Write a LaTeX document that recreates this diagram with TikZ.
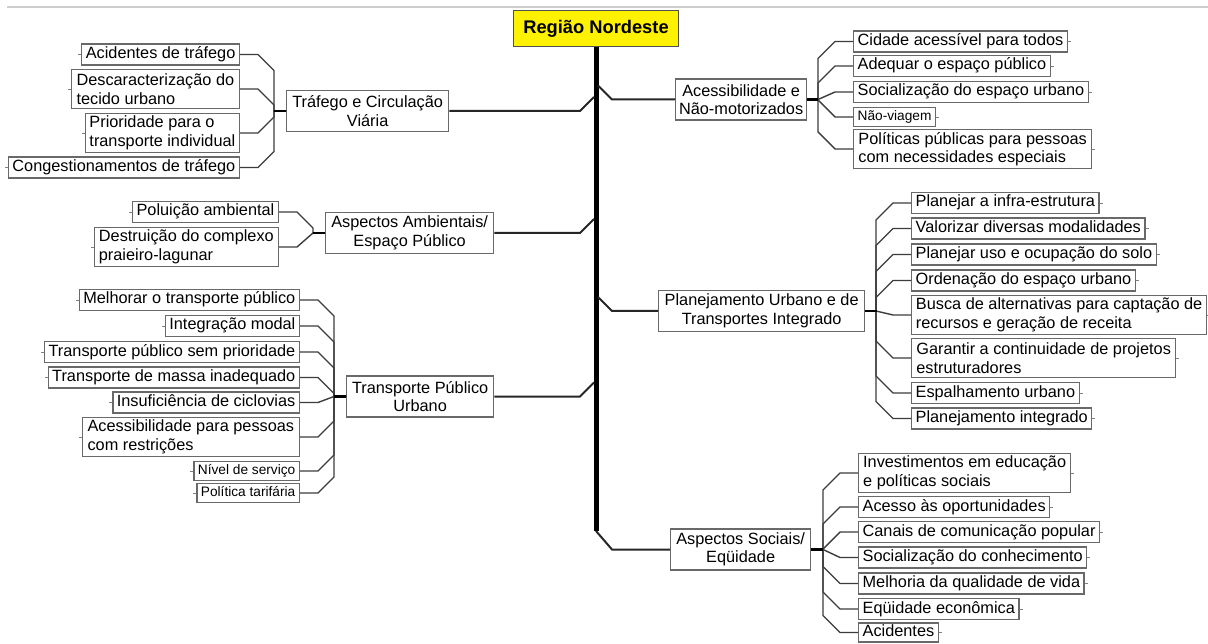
\documentclass[tikz,border=0pt]{standalone}
\usepackage{fontspec}
\setmainfont{Liberation Sans}
\usetikzlibrary{calc}
\definecolor{boxgray}{RGB}{105,105,105}
\definecolor{conngray}{RGB}{60,60,60}
\definecolor{topgray}{RGB}{205,205,205}
\definecolor{rootborder}{RGB}{80,80,80}
\newcommand\fsA{\fontsize{16.3}{18.5}\selectfont}
\newcommand\fsB{\fontsize{13.7}{16}\selectfont}
\newcommand\fsR{\fontsize{18.3}{21}\selectfont\bfseries}
\newcommand\conL[2]{\draw[conn] let \p1=(#1.east), \p2=(#2.west), \n1={max(-16pt,min(16pt,\y2-\y1))} in (#1.east) -- ++(18pt,0pt) -- ++(16pt,\n1) |- (#2.west);}
\newcommand\conR[2]{\draw[conn] let \p1=(#1.west), \p2=(#2.east), \n1={max(-17pt,min(17pt,\y2-\y1))} in (#1.west) -- ++(-18pt,0pt) -- ++(-17pt,\n1) |- (#2.east);}
\newcommand\tkL[1]{\draw[tick] (#1.west) -- ++(-3,0);}
\newcommand\tkR[1]{\draw[tick] (#1.east) -- ++(3,0);}
\begin{document}
\begin{tikzpicture}[x=1pt,y=-1pt,
  kid/.style={draw=boxgray, line width=1.3pt, fill=white, font=\fsA, inner xsep=4pt, inner ysep=2.5pt, text height=12pt, text depth=4pt},
  kids/.style={kid, font=\fsB, text height=10pt, text depth=3.5pt},
  kidtwo/.style={draw=boxgray, line width=1.3pt, fill=white, font=\fsA, inner xsep=4pt, inner ysep=0pt, minimum height=39pt, align=left},
  cat/.style={draw=boxgray, line width=1.3pt, fill=white, font=\fsA, inner sep=2pt, minimum height=41pt, align=center},
  rootbox/.style={draw=rootborder, line width=1.5pt, fill=yellow, font=\fsR, minimum width=165pt, minimum height=36pt, inner sep=2pt},
  conn/.style={draw=conngray, line width=1.4pt},
  branch/.style={draw=black!85, line width=2pt},
  stub/.style={draw=black, line width=2.8pt},
  trunkline/.style={draw=black, line width=5pt},
  tick/.style={draw=gray, line width=0.8pt},
  topline/.style={draw=topgray, line width=1.2pt}]
\useasboundingbox (0,0) rectangle (1208,644);
\fill[white] (0,0) rectangle (1208,644);
\draw[topline] (7,7) -- (1208,7);

% root
\node[rootbox] (root) at (596,28.5) {Região Nordeste};
\coordinate (tk) at (596,0);
\coordinate (tb) at (596,531);

% ---- left: Trafego
\node[cat, minimum width=162pt, anchor=west] (traf) at (286,111) {Tráfego e Circulação\\Viária};
\node[kid, anchor=east] (t1) at (240,54.5) {Acidentes de tráfego};
\node[kidtwo, minimum width=168pt, anchor=east] (t2) at (240,89) {Descaracterização do\\tecido urbano};
\node[kidtwo, minimum width=151pt, anchor=east] (t3) at (240,133) {Prioridade para o\\transporte individual};
\node[kid, anchor=east] (t4) at (240,167.5) {Congestionamentos de tráfego};

% ---- left: Ambientais
\node[cat, minimum width=168pt, anchor=west] (amb) at (325,233) {Aspectos Ambientais/\\Espaço Público};
\node[kid, anchor=east] (a1) at (279,212) {Poluição ambiental};
\node[kidtwo, minimum width=184pt, anchor=east] (a2) at (279,247) {Destruição do complexo\\praieiro-lagunar};

% ---- left: Transporte Publico
\node[cat, minimum width=147pt, anchor=west] (tp) at (346,396.5) {Transporte Público\\Urbano};
\node[kid, anchor=east] (p1) at (300,300) {Melhorar o transporte público};
\node[kid, anchor=east] (p2) at (300,326) {Integração modal};
\node[kid, anchor=east] (p3) at (300,352) {Transporte público sem prioridade};
\node[kid, anchor=east] (p4) at (300,377.5) {Transporte de massa inadequado};
\node[kid, anchor=east] (p5) at (300,402.5) {Insuficiência de ciclovias};
\node[kidtwo, minimum width=217pt, anchor=east] (p6) at (300,437) {Acessibilidade para pessoas\\com restrições};
\node[kids, anchor=east] (p7) at (300,471) {Nível de serviço};
\node[kids, anchor=east] (p8) at (300,493) {Política tarifária};

% ---- right: Acessibilidade
\node[cat, minimum width=131pt, anchor=west] (acc) at (675,99.5) {Acessibilidade e\\Não-motorizados};
\node[kid, anchor=west] (r1) at (853,41.5) {Cidade acessível para todos};
\node[kid, anchor=west] (r2) at (853,66) {Adequar o espaço público};
\node[kid, anchor=west] (r3) at (853,92) {Socialização do espaço urbano};
\node[kids, anchor=west] (r4) at (853,117) {Não-viagem};
\node[kidtwo, minimum width=238pt, anchor=west] (r5) at (853,149) {Políticas públicas para pessoas\\com necessidades especiais};

% ---- right: Planejamento
\node[cat, minimum width=206pt, anchor=west] (pl) at (658,311) {Planejamento Urbano e de\\Transportes Integrado};
\node[kid, anchor=west] (q1) at (911,203) {Planejar a infra-estrutura};
\node[kid, anchor=west] (q2) at (911,228.5) {Valorizar diversas modalidades};
\node[kid, anchor=west] (q3) at (911,254.5) {Planejar uso e ocupação do solo};
\node[kid, anchor=west] (q4) at (911,280.5) {Ordenação do espaço urbano};
\node[kidtwo, minimum width=295pt, anchor=west] (q5) at (911,315) {Busca de alternativas para captação de\\recursos e geração de receita};
\node[kidtwo, minimum width=264pt, anchor=west] (q6) at (911,358) {Garantir a continuidade de projetos\\estruturadores};
\node[kid, anchor=west] (q7) at (911,393) {Espalhamento urbano};
\node[kid, anchor=west] (q8) at (911,418.5) {Planejamento integrado};

% ---- right: Sociais
\node[cat, minimum width=140pt, anchor=west] (soc) at (670,549.5) {Aspectos Sociais/\\Eqüidade};
\node[kidtwo, minimum width=212pt, anchor=west] (s1) at (858,473) {Investimentos em educação\\e políticas sociais};
\node[kid, anchor=west] (s2) at (858,507) {Acesso às oportunidades};
\node[kid, anchor=west] (s3) at (858,532) {Canais de comunicação popular};
\node[kid, anchor=west] (s4) at (858,557.5) {Socialização do conhecimento};
\node[kid, anchor=west] (s5) at (858,583.5) {Melhoria da qualidade de vida};
\node[kid, anchor=west] (s6) at (858,609) {Eqüidade econômica};
\node[kid, anchor=west, text height=11.5pt, text depth=3.5pt, inner ysep=2pt] (s7) at (858,632.5) {Acidentes};

% ---- trunk and main branches
\draw[trunkline] (root.south) -- (tb);
\draw[branch] (traf.east) -- ($(traf.east -| tk)+(-16,0)$) -- ($(traf.east -| tk)+(-2,-14)$);
\draw[branch] (amb.east) -- ($(amb.east -| tk)+(-16,0)$) -- ($(amb.east -| tk)+(-2,-14)$);
\draw[branch] (tp.east) -- ($(tp.east -| tk)+(-16,0)$) -- ($(tp.east -| tk)+(-2,-14)$);
\draw[branch] (acc.west) -- ($(acc.west -| tk)+(16,0)$) -- ($(acc.west -| tk)+(2,-14)$);
\draw[branch] (pl.west) -- ($(pl.west -| tk)+(16,0)$) -- ($(pl.west -| tk)+(2,-14)$);
\draw[branch] (soc.west) -- ($(soc.west -| tk)+(16,0)$) -- (tb);

% ---- child connectors
\foreach \c in {t1,t2,t3,t4} {\conL{\c}{traf}}
\foreach \c in {a1,a2} {\conL{\c}{amb}}
\foreach \c in {p1,p2,p3,p4,p5,p6,p7,p8} {\conL{\c}{tp}}
\foreach \c in {r1,r2,r3,r4,r5} {\conR{\c}{acc}}
\foreach \c in {q1,q2,q3,q4,q5,q6,q7,q8} {\conR{\c}{pl}}
\foreach \c in {s1,s2,s3,s4,s5,s6,s7} {\conR{\c}{soc}}

% ---- stubs
\draw[stub] (traf.west) -- ++(-12,0);
\draw[stub] (amb.west) -- ++(-12,0);
\draw[stub] (tp.west) -- ++(-12,0);
\draw[stub] (acc.east) -- ++(11,0);
\draw[stub] (pl.east) -- ++(12,0);
\draw[stub] (soc.east) -- ++(12,0);

% ---- ticks
\foreach \c in {t1,t2,t3,t4,a1,a2,p1,p2,p3,p4,p5,p6,p7,p8} {\tkL{\c}}
\foreach \c in {r1,r2,r3,r4,r5,q1,q2,q3,q4,q5,q6,q7,q8,s1,s2,s3,s4,s5,s6,s7} {\tkR{\c}}
\end{tikzpicture}
\end{document}
